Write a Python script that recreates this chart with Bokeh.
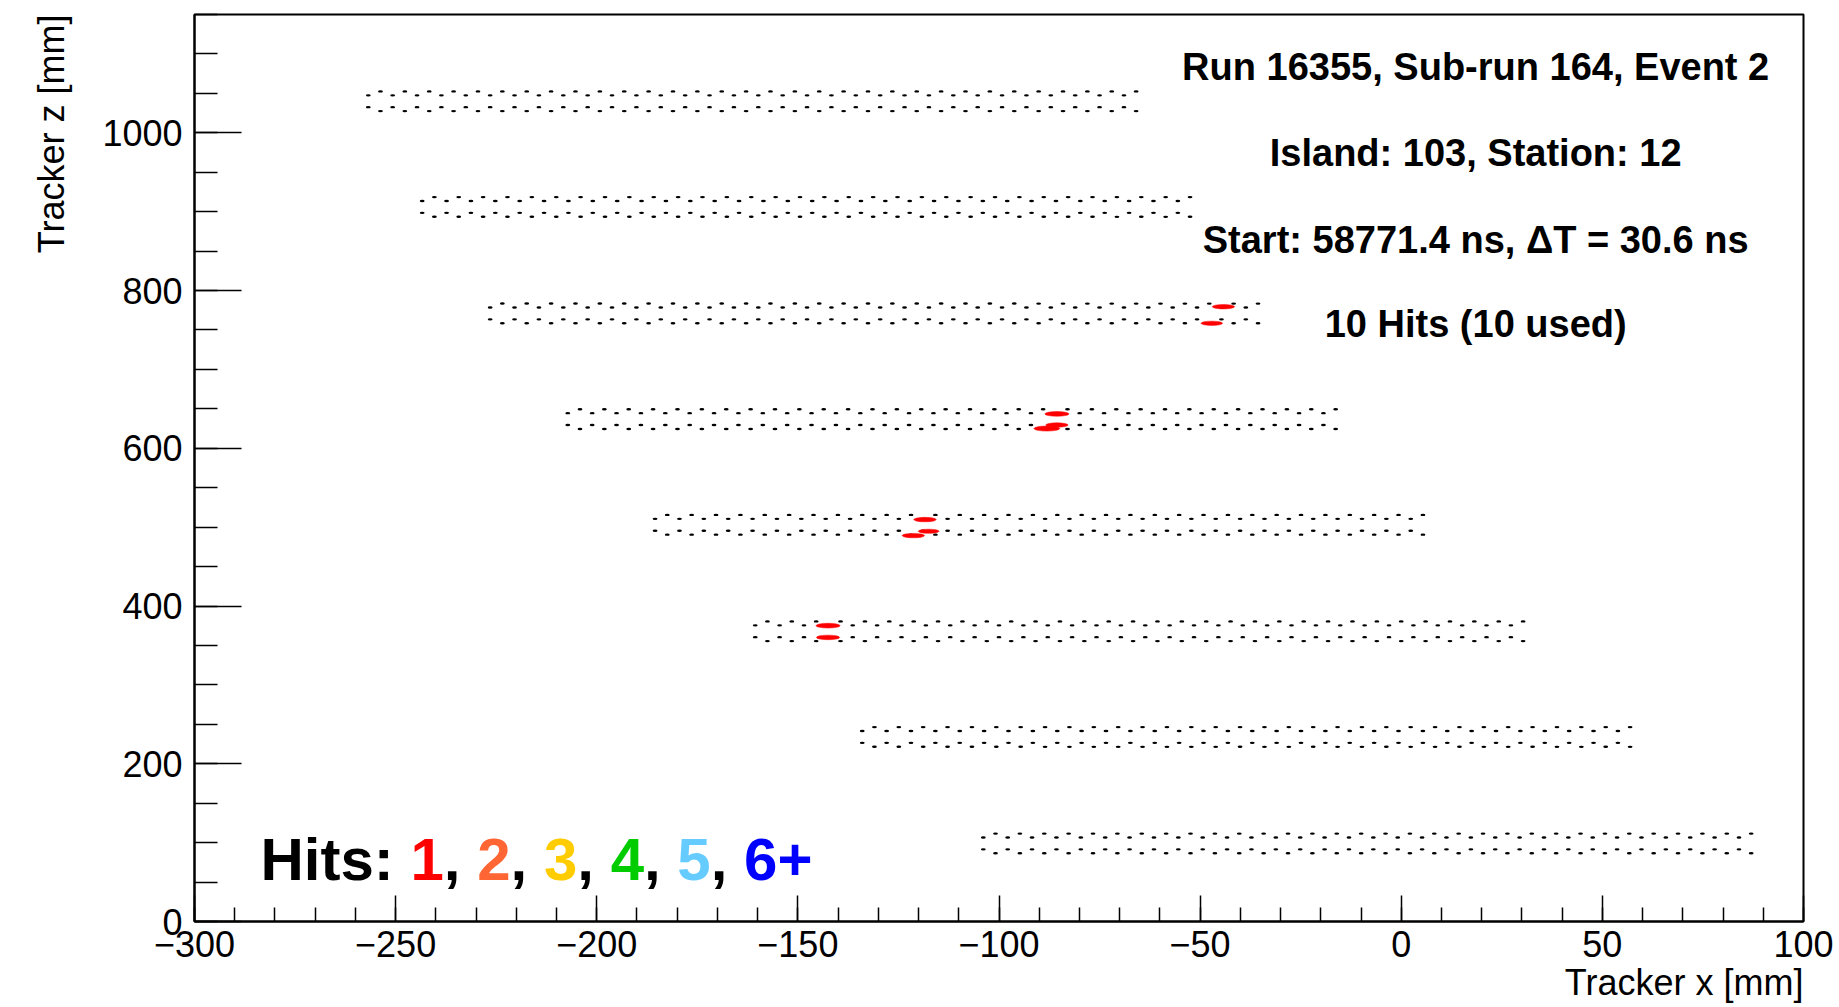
import numpy as np
from bokeh.plotting import figure
from bokeh.models import Range1d, FixedTicker, Label, ColumnDataSource, Title
from bokeh.embed import file_html
from bokeh.resources import INLINE

# ---- detector geometry (mm) ----
module_z = [1040, 906, 771, 637, 503, 368, 234, 99]
module_x0 = [-256.8, -243.4, -226.5, -207.2, -185.5, -160.6, -134.0, -103.9]
layer_dz = [12.5, 7.5, -7.5, -12.5]
layer_dx = [3.03, 0.0, 0.0, 3.03]
straw_pitch = 6.06
straws_per_layer = 32

# ---- hits (x, z, drift radius) ----
hit_x = [-44.2, -47.1, -85.6, -85.6, -88.1, -118.4, -117.5, -121.3, -142.5, -142.5]
hit_z = [779.5, 758.5, 643.6, 629.5, 625.0, 509.6, 494.8, 489.3, 375.1, 360.2]
hit_r = [2.8, 2.7, 3.0, 2.8, 3.2, 2.8, 2.6, 2.8, 3.0, 2.9]

# ---- texts / ticks ----
info_lines = ["Run 16355, Sub-run 164, Event 2",
              "Island: 103, Station: 12",
              "Start: 58771.4 ns, \u0394T = 30.6 ns",
              "10 Hits (10 used)"]
info_y = [1084, 975, 864, 757]
info_x = 18.5
hits_segments = ["Hits: ", "1", ", ", "2", ", ", "3", ", ", "4", ", ", "5", ", ", "6+"]
hits_colors = ["black", "#ff0000", "black", "#ff6633", "black", "#ffcc00", "black",
               "#00cc00", "black", "#66ccff", "black", "#0000ff"]
x_major = [-300, -250, -200, -150, -100, -50, 0, 50, 100]
x_minor = list(range(-300, 101, 10))
y_major = [0, 200, 400, 600, 800, 1000]
y_minor = list(range(0, 1151, 50))
x_title = "Tracker x [mm]"
y_title = "Tracker z [mm]"

FONT = "Liberation Sans"

# build straw table from geometry
sx, sz = [], []
for z0, x0 in zip(module_z, module_x0):
    for dz, dx in zip(layer_dz, layer_dx):
        for k in range(straws_per_layer):
            sx.append(x0 + dx + k * straw_pitch)
            sz.append(z0 + dz)
straws = ColumnDataSource(dict(x=sx, z=sz))
hits = ColumnDataSource(dict(x=hit_x, z=hit_z, w=[2 * r for r in hit_r]))

W, H = 1839, 1007
p = figure(width=W, height=H, output_backend="svg", toolbar_location=None,
           x_range=Range1d(-300, 100), y_range=Range1d(0, 1150),
           min_border_left=194, min_border_right=36, min_border_top=14,
           min_border_bottom=86)
p.background_fill_color = "white"
p.border_fill_color = "white"
p.grid.visible = False
p.outline_line_color = "black"
p.outline_line_width = 2

p.ellipse(x="x", y="z", width=1.2, height=3.0, source=straws,
          fill_color="black", fill_alpha=1.0, line_color=None)
p.ellipse(x="x", y="z", width="w", height="w", source=hits,
          fill_color="#ff0000", line_color="#ff0000", line_width=0.5)

# axes
for ax, majors, minors, tin, tmin in ((p.xaxis[0], x_major, x_minor, 26, 14),
                                      (p.yaxis[0], y_major, y_minor, 47, 23)):
    ax.ticker = FixedTicker(ticks=majors, minor_ticks=minors)
    ax.major_tick_in = tin
    ax.major_tick_out = 0
    ax.minor_tick_in = tmin
    ax.minor_tick_out = 0
    ax.axis_line_width = 2
    ax.axis_line_color = "black"
    ax.major_tick_line_width = 1.5
    ax.minor_tick_line_width = 1.5
    ax.major_tick_line_color = "black"
    ax.minor_tick_line_color = "black"
    ax.major_label_text_font = FONT
    ax.major_label_text_font_size = "36px"
    ax.major_label_text_color = "black"
p.xaxis.major_label_standoff = 9
p.yaxis.major_label_standoff = 12
p.xaxis.major_label_overrides = {v: (str(v).replace("-", "\u2212")) for v in x_major}

# axis titles (aligned to the right / top end like ROOT)
p.add_layout(Title(text=x_title, align="right", text_font=FONT,
                   text_font_size="36px", text_font_style="normal",
                   text_color="black", standoff=0), "below")
p.add_layout(Title(text=y_title, align="right", text_font=FONT,
                   text_font_size="36px", text_font_style="normal",
                   text_color="black", standoff=56), "left")

# info text
for t, yy in zip(info_lines, info_y):
    p.add_layout(Label(x=info_x, y=yy, text=t, text_align="center",
                       text_baseline="alphabetic", text_font=FONT,
                       text_font_style="bold", text_font_size="38px",
                       text_color="black"))

# "Hits:" legend, segment by segment (Arial-bold advance widths, per 1000 em)
adv = {'H': 722, 'i': 278, 't': 333, 's': 556, ':': 333, ' ': 278, ',': 278, '+': 584}
for d in "0123456789":
    adv[d] = 556
FS = 60
off = 0.0
for seg, col in zip(hits_segments, hits_colors):
    p.add_layout(Label(x=-283.6, y=78, x_offset=off, text=seg,
                       text_align="left", text_baseline="alphabetic",
                       text_font=FONT, text_font_style="bold",
                       text_font_size=f"{FS}px", text_color=col))
    off += sum(adv[c] for c in seg) * FS / 1000.0

open("out.html", "w").write(file_html(p, INLINE))
